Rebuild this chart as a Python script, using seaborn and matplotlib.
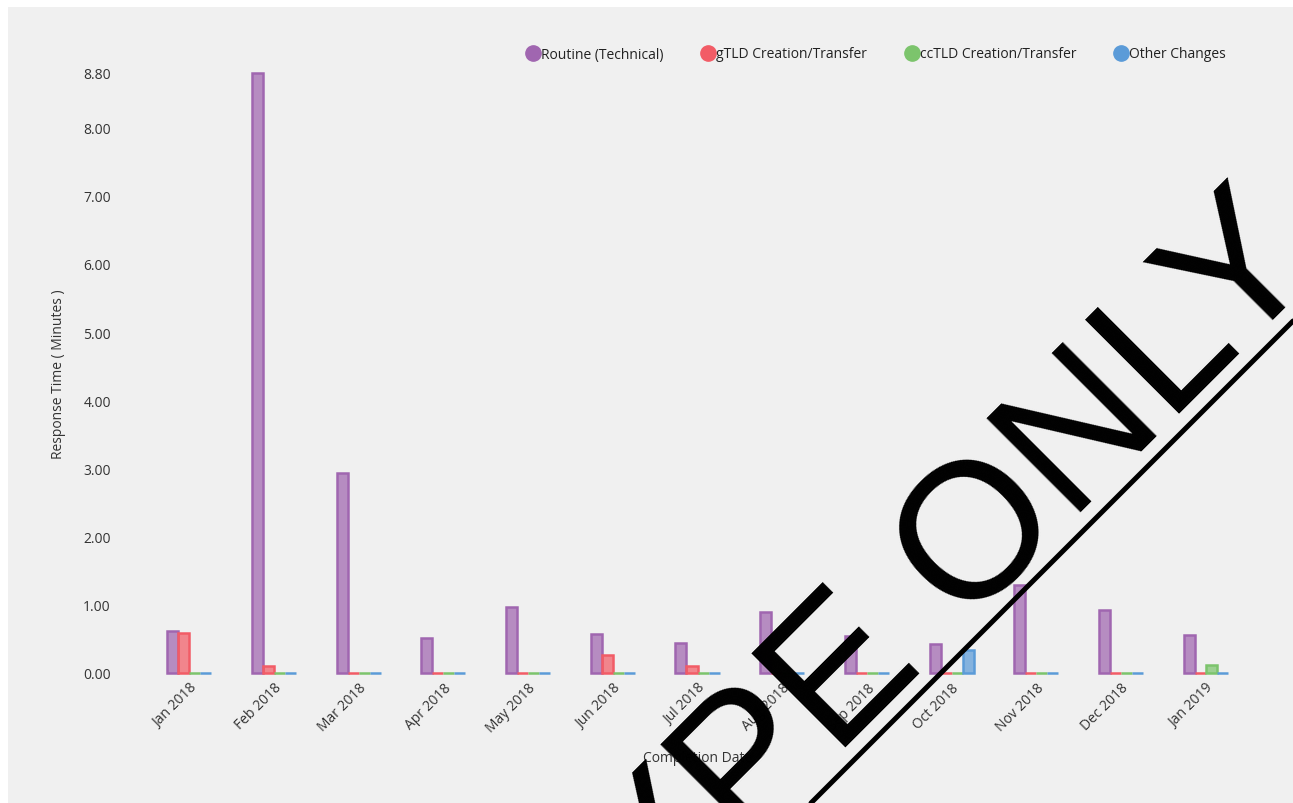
import matplotlib
matplotlib.use("Agg")
import matplotlib.pyplot as plt
from matplotlib.lines import Line2D
from matplotlib.patches import Rectangle
from matplotlib.colors import to_rgba
import seaborn as sns
import pandas as pd

# monthly average response time (minutes) per change type
months = ["Jan 2018", "Feb 2018", "Mar 2018", "Apr 2018", "May 2018", "Jun 2018",
          "Jul 2018", "Aug 2018", "Sep 2018", "Oct 2018", "Nov 2018", "Dec 2018", "Jan 2019"]
routine = [0.62, 8.80, 2.94, 0.51, 0.97, 0.57, 0.44, 0.90, 0.55, 0.43, 1.29, 0.92, 0.56]
gtld = [0.59, 0.10, 0, 0, 0, 0.26, 0.10, 0, 0, 0, 0, 0, 0]
cctld = [0, 0, 0, 0, 0, 0, 0, 0, 0, 0, 0, 0, 0.12]
other = [0, 0, 0, 0, 0, 0, 0, 0, 0, 0.34, 0, 0, 0]
series = ["Routine (Technical)", "gTLD Creation/Transfer", "ccTLD Creation/Transfer", "Other Changes"]
colors = ["#a066b0", "#f25c66", "#7cc46c", "#5b9bd8"]
yticks = [0, 1, 2, 3, 4, 5, 6, 7, 8, 8.8]

df = pd.DataFrame({
    "month": months * 4,
    "value": routine + gtld + cctld + other,
    "series": [s for s in series for _ in months],
})

sns.set_style("white")
plt.rcParams["font.family"] = ["Open Sans", "DejaVu Sans"]
bg = "#f0f0f0"
txt = "#333333"
fs = 10

fig = plt.figure(figsize=(12.93, 8.04), dpi=100, facecolor="white")
fig.patches.append(Rectangle((8 / 1293, 0), 1, 1 - 8 / 804, transform=fig.transFigure,
                             facecolor=bg, edgecolor="none", zorder=-10))
ax = fig.add_axes([147 / 1293, 1 - 674 / 804, 1101 / 1293, 600 / 804])
ax.set_facecolor(bg)

sns.barplot(data=df, x="month", y="value", hue="series", hue_order=series,
            palette=colors, width=0.52, legend=False, ax=ax)
for cont, c in zip(ax.containers, colors):
    for bar in cont:
        bar.set_facecolor(to_rgba(c, 0.72))
        bar.set_edgecolor(c)
        bar.set_linewidth(1.8)
        bar.set_clip_on(False)

ax.set_xlim(-0.5, 12.5)
ax.set_ylim(0, 8.8)
ax.set_yticks(yticks)
ax.set_yticklabels([f"{v:.2f}" for v in yticks], fontsize=fs, color=txt)
ax.tick_params(axis="y", length=0, pad=26)
ax.tick_params(axis="x", length=0, pad=5)
for lab in ax.get_xticklabels():
    lab.set_rotation(45)
    lab.set_ha("right")
    lab.set_rotation_mode("anchor")
    lab.set_fontsize(fs)
    lab.set_color(txt)
sns.despine(ax=ax, left=True, bottom=True)

ax.set_ylabel("Response Time ( Minutes )", fontsize=fs, color=txt)
ax.yaxis.set_label_coords(-0.074, 0.5)
ax.set_xlabel("Completion Date", fontsize=fs, color=txt)
ax.xaxis.set_label_coords(0.5, -0.128)

handles = [Line2D([], [], marker="o", linestyle="none", markersize=11,
                  markerfacecolor=c, markeredgecolor=c) for c in colors]
fig.legend(handles, series, loc="center right", bbox_to_anchor=(1233 / 1293, 1 - 55 / 804),
           ncol=4, frameon=False, fontsize=fs, handletextpad=0.1, columnspacing=2.7,
           handlelength=1.0, borderpad=0, labelcolor="#222222")

# watermark
fig.text(1325 / 1293, 1 - 268 / 804, "PROTOTYPE ONLY", rotation=45, ha="right",
         va="baseline", rotation_mode="anchor", fontsize=139, color="black",
         family="Liberation Sans", zorder=20)
fig.lines.append(Line2D([811 / 1293, 1], [0, 1 - 322 / 804], transform=fig.transFigure,
                        color="black", linewidth=3.6, zorder=20))

fig.savefig("out.png", dpi=100, facecolor=fig.get_facecolor())
